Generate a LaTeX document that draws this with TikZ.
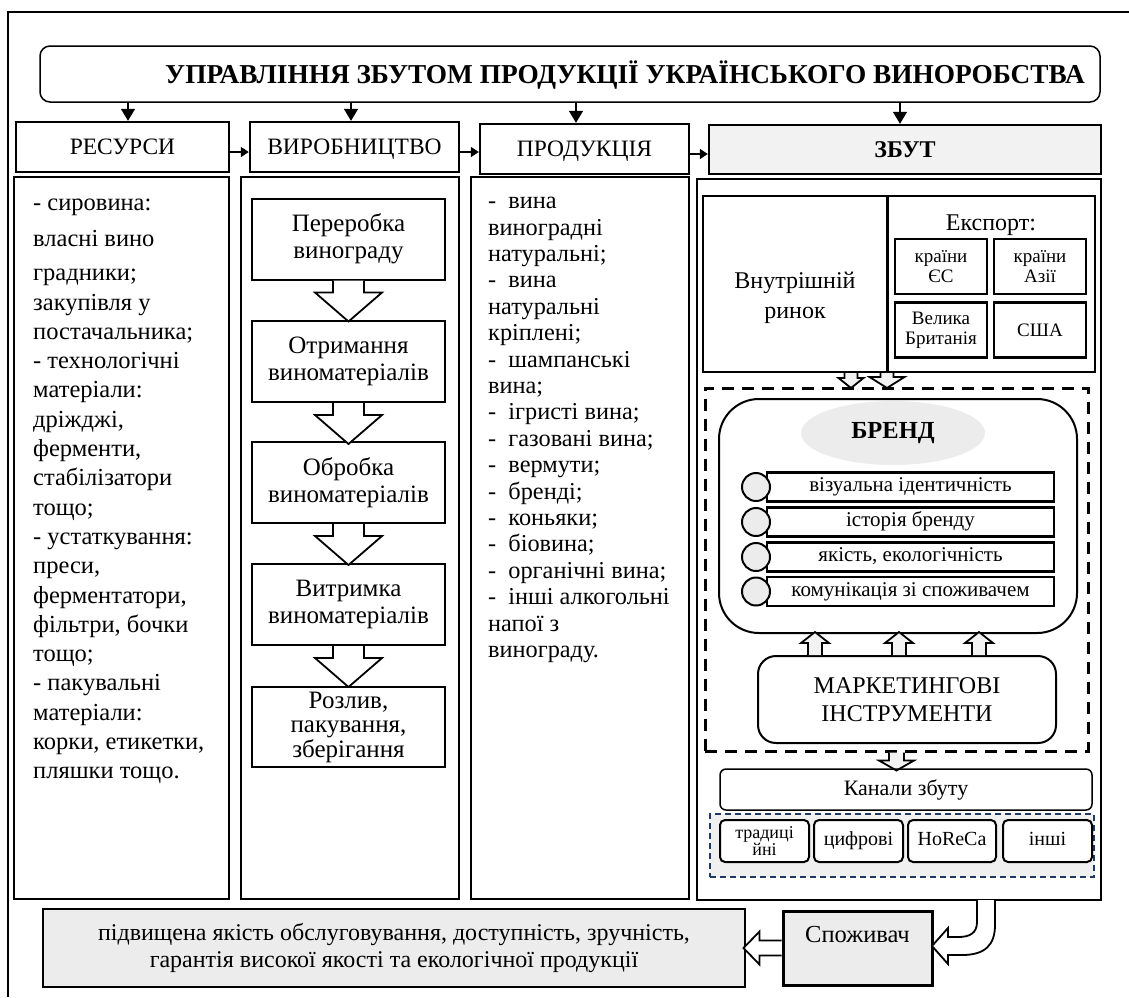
\documentclass[tikz,border=0pt]{standalone}
\usepackage{fontspec}
\setmainfont{Liberation Serif}
\usetikzlibrary{arrows.meta, shapes.geometric}
\definecolor{chnavy}{RGB}{31,56,100}

\begin{document}
\begin{tikzpicture}[x=1pt,y=-1pt,font=\fontsize{24}{28}\selectfont,
  box/.style={draw, line width=2pt, inner sep=0pt, align=center},
  hdr/.style={box, line width=2.4pt, font=\fontsize{23.5}{26}\selectfont, text height=17pt, text depth=1.5pt},
  colbox/.style={box, line width=1.8pt},
  stepbox/.style={box, font=\fontsize{25}{27}\selectfont, minimum width=193pt, minimum height=81pt},
  ctry/.style={box, line width=2.5pt, font=\fontsize{19}{20}\selectfont, minimum width=92pt, minimum height=55pt},
  item/.style={box, line width=2.5pt, font=\fontsize{21}{22}\selectfont, text height=13pt, text depth=3.5pt, minimum width=287pt, minimum height=29pt},
  dot/.style={circle, draw, line width=2pt, fill=gray!15, minimum size=28pt, inner sep=0pt},
  chan/.style={box, rounded corners=5pt, fill=white, font=\fontsize{20}{20}\selectfont, text height=13.5pt, text depth=4.5pt, minimum width=89pt, minimum height=42pt},
  dn/.style={line width=1.5pt, -{Triangle[width=14pt,length=12pt]}},
  rt/.style={line width=1.5pt, -{Triangle[width=10pt,length=8pt]}},
  blkline/.style={draw, line width=1.8pt, line join=miter},
  pics/blk/.style n args={4}{code={\filldraw[blkline] (-#1,0) -- (-#1,#3) -- (-#2,#3) -- (0,{#3+#4}) -- (#2,#3) -- (#1,#3) -- (#1,0);}}]
\useasboundingbox (0,0) rectangle (1129,997);
\draw[line width=1.5pt] (8,997) -- (8,12) -- (1129,12);

\node[box, line width=1.5pt, rounded corners=10pt, minimum width=1060pt, minimum height=56pt, text height=19pt, text depth=1pt, font=\bfseries\fontsize{27.3}{30}\selectfont] (title) at (570,74) {\hspace*{110pt}УПРАВЛІННЯ ЗБУТОМ ПРОДУКЦІЇ УКРАЇНСЬКОГО ВИНОРОБСТВА};

\node[hdr, minimum width=213pt, minimum height=50pt] (res) at (122.5,147) {РЕСУРСИ};
\node[hdr, minimum width=209pt, minimum height=50pt] (vyr) at (354.5,147) {ВИРОБНИЦТВО};
\node[hdr, minimum width=209pt, minimum height=50pt] (prd) at (584.5,149) {ПРОДУКЦІЯ};
\node[hdr, fill=gray!10, minimum width=392pt, minimum height=49pt, font=\bfseries\fontsize{24}{26}\selectfont] (zbut) at (905,149.5) {ЗБУТ};
\foreach \n/\dx in {res/5.5,vyr/-3.5,prd/-8.5,zbut/-5}
  \draw[dn] ([xshift=\dx pt]title.south -| \n.north) -- ([xshift=\dx pt]\n.north);
\foreach \a/\b in {res/vyr,vyr/prd,prd/zbut}
  \draw[rt] ([yshift=-5pt]\a.east) -- ([yshift=-5pt]\a.east -| \b.west);

\node[colbox, minimum width=215pt, minimum height=722pt] (c1) at (121.5,538) {};
\node[colbox, minimum width=218pt, minimum height=722pt] (c2) at (350,538) {};
\node[colbox, minimum width=218pt, minimum height=722pt] (c3) at (580,538) {};
\node[colbox, minimum width=404pt, minimum height=721pt] (c4) at (899,539.5) {};

\node[anchor=north west, inner sep=0pt, align=left, font=\fontsize{24.5}{29.3}\selectfont] (restxt) at (33,190)
  {\strut- сировина:\\[6.7pt] власні вино\\[4.7pt] градники;\\ закупівля у\\ постачальника;\\ - технологічні\\ матеріали:\\ дріжджі,\\ ферменти,\\ стабілізатори\\ тощо;\\ - устаткування:\\ преси,\\ ферментатори,\\ фільтри, бочки\\ тощо;\\ - пакувальні\\ матеріали:\\ корки, етикетки,\\ пляшки тощо.};

\node[stepbox] (p1) at (348.5,239) {Переробка\\винограду};
\node[stepbox] (p2) at (348.5,361.5) {Отримання\\виноматеріалів};
\node[stepbox] (p3) at (348.5,482.5) {Обробка\\виноматеріалів};
\node[stepbox] (p4) at (348.5,604.5) {Витримка\\виноматеріалів};
\node[stepbox, minimum height=80pt, font=\fontsize{25}{24.5}\selectfont] (p5) at (348.5,727) {Розлив,\\пакування,\\зберігання};
\foreach \a in {p1,p2,p3,p4}
  \pic[fill=white] at (\a.south) {blk={15.5}{33.5}{12}{29}};

\node[anchor=north west, inner sep=0pt, align=left, font=\fontsize{24.3}{26.4}\selectfont] (prdtxt) at (488,190)
  {\strut-~~вина\\ виноградні\\ натуральні;\\ -~~вина\\ натуральні\\ кріплені;\\ -~~шампанські\\ вина;\\ -~~ігристі вина;\\ -~~газовані вина;\\ -~~вермути;\\ -~~бренді;\\ -~~коньяки;\\ -~~біовина;\\ -~~органічні вина;\\ -~~інші алкогольні\\ напої з\\ винограду.};

\node[box, minimum width=392pt, minimum height=176pt] (mkt) at (899,284) {};
\draw[line width=3pt] (887,196) -- (887,377);
\node[align=center, font=\fontsize{24}{30}\selectfont] (dom) at (795,298) {Внутрішній\\ринок};
\node[anchor=base, font=\fontsize{24}{26}\selectfont] (exp) at (991,230) {Експорт:};
\node[ctry] (eu) at (941,266.5) {країни\\ЄС};
\node[ctry] (asia) at (1040,266.5) {країни\\Азії};
\node[ctry] (uk) at (941,330) {Велика\\Британія};
\node[ctry] (usa) at (1040,330) {США};
\pic[fill=gray!10] at ([xshift=-48pt]mkt.south) {blk={6.5}{12.5}{5}{10}};
\pic[fill=gray!10] at ([xshift=-12pt]mkt.south) {blk={6.5}{17.5}{4}{11}};

\node[draw, line width=3pt, dash pattern=on 12pt off 8pt, minimum width=383pt, minimum height=363pt, inner sep=0pt] (dsh) at (896.5,569.5) {};
\node[box, rounded corners=40pt, minimum width=358pt, minimum height=234pt] (brbox) at (898,516) {};
\node[ellipse, fill=gray!15, minimum width=184pt, minimum height=64pt, font=\bfseries\fontsize{24.5}{28}\selectfont] (brand) at (893,433) {БРЕНД};
\foreach \y/\t [count=\i] in {487/візуальна ідентичність, 522/історія бренду, {557/якість, екологічність}, 591.5/комунікація зі споживачем}{
  \node[item] (it\i) at (910.5,\y) {\t};
  \node[dot] (d\i) at (756,\y) {};
}
\node[box, rounded corners=18pt, minimum width=298pt, minimum height=87pt, font=\fontsize{24}{28}\selectfont] (mk) at (907,699.5) {МАРКЕТИНГОВІ\\ІНСТРУМЕНТИ};
\foreach \dx in {-92,-8,72}
  \pic[yscale=-1, fill=gray!10] at ([xshift=\dx pt]mk.north) {blk={7}{14}{12}{11}};
\pic[fill=gray!10] at (dsh.south) {blk={7.5}{17.5}{8}{10}};

\node[box, line width=1.5pt, rounded corners=6pt, minimum width=372pt, minimum height=41pt, font=\fontsize{22}{24}\selectfont] (kan) at (906,789.5) {Канали збуту};
\node[draw=chnavy, line width=1.5pt, dash pattern=on 6pt off 4pt, fill=gray!12, minimum width=384pt, minimum height=63pt, inner sep=0pt] (chfr) at (902,845.5) {};
\node[box, rounded corners=5pt, fill=white, minimum width=89pt, minimum height=42pt, font=\fontsize{18}{17}\selectfont] (ch1) at (764.5,841) {традиці\\йні};
\node[chan] (ch2) at (858.5,841) {цифрові};
\node[chan, minimum width=88pt] (ch3) at (952,841) {HoReCa};
\node[chan] (ch4) at (1047.5,841) {інші};

\node[box, line width=2.5pt, fill=gray!15, minimum width=702pt, minimum height=78pt, font=\fontsize{24}{27}\selectfont] (qual) at (394,948) {підвищена якість обслуговування, доступність, зручність,\\гарантія високої якості та екологічної продукції};
\node[box, line width=3pt, fill=gray!15, minimum width=149pt, minimum height=74pt, text height=10pt, text depth=21pt, font=\fontsize{24.5}{26}\selectfont] (cons) at (857.5,948) {Споживач};
\pic[rotate=-90, fill=white] at (cons.west) {blk={7.5}{16.5}{22}{16}};
\filldraw[blkline, fill=white] (977,900) -- (977,922) .. controls (977,933) and (970,937) .. (958,937) -- (948,937) -- (948,928) -- (932,946) -- (948,964) -- (948,955) -- (962,955) .. controls (985,955) and (995,945) .. (995,925) -- (995,900);
\end{tikzpicture}
\end{document}
